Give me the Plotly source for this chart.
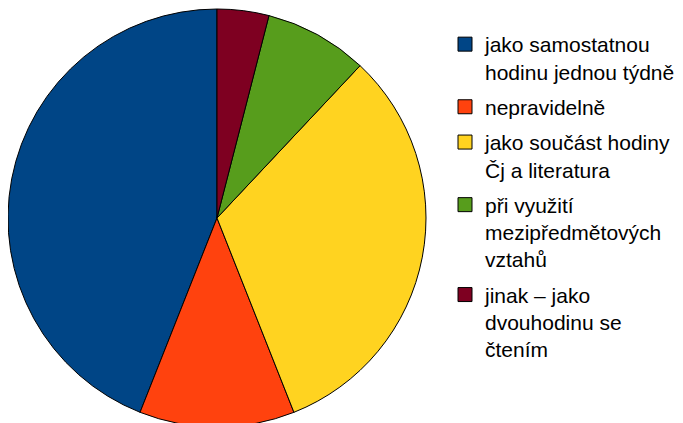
import plotly.graph_objects as go

labels = [
    "jako samostatnou<br>hodinu jednou týdně",
    "nepravidelně",
    "jako součást hodiny<br>Čj a literatura",
    "při využití<br>mezipředmětových<br>vztahů",
    "jinak – jako<br>dvouhodinu se<br>čtením",
]
values = [11, 3, 8, 2, 1]
colors = ["#004586", "#ff420e", "#ffd320", "#579d1c", "#7e0021"]

W, H = 683, 423
start_rot = -360.0 * values[0] / sum(values)

fig = go.Figure()
fig.add_trace(go.Pie(
    labels=labels,
    values=values,
    sort=False,
    direction="counterclockwise",
    rotation=start_rot,
    textinfo="none",
    showlegend=False,
    marker=dict(colors=colors, line=dict(color="#000000", width=1)),
    domain=dict(x=[0, 418 / W], y=[4 / H, 422 / H]),
))
# legend entries (one per slice), grouped so the gap between entries can be set
for lab, col in zip(labels, colors):
    fig.add_trace(go.Scatter(
        x=[None], y=[None], mode="markers", name=lab, legendgroup=lab,
        marker=dict(symbol="square", size=14, color=col,
                    line=dict(color="#000000", width=1)),
        hoverinfo="skip",
    ))

fig.update_layout(
    width=W, height=H,
    margin=dict(l=0, r=0, t=0, b=0),
    paper_bgcolor="white",
    plot_bgcolor="white",
    xaxis=dict(visible=False),
    yaxis=dict(visible=False),
    font=dict(family="Liberation Sans, Arial, sans-serif", size=21, color="#000000"),
    legend=dict(x=437 / W, y=1 - 16 / H, xanchor="left", yanchor="top",
                valign="top", traceorder="grouped", tracegroupgap=5,
                bgcolor="rgba(0,0,0,0)",
                font=dict(size=21)),
    showlegend=True,
)
fig.write_html("out.html")
